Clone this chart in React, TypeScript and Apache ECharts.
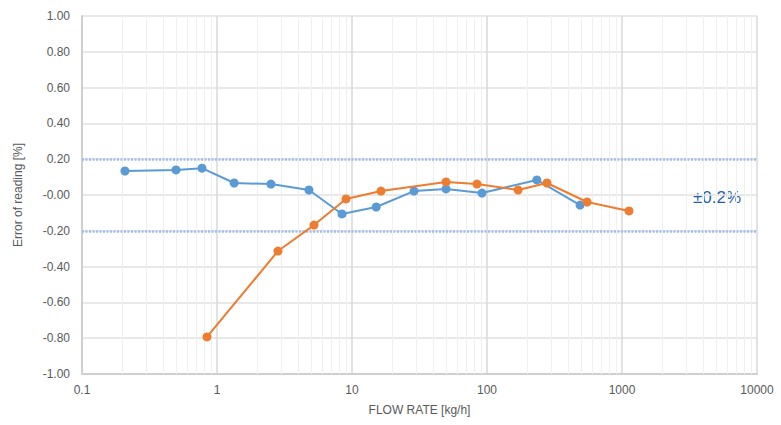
import React, { useEffect, useRef } from "react";
import * as echarts from "echarts";

const blueX = [0.208, 0.497, 0.774, 1.34, 2.51, 4.8, 8.43, 15.1, 28.8, 49.7, 91.8, 234, 489];
const blueY = [0.134, 0.14, 0.15, 0.067, 0.061, 0.028, -0.106, -0.067, 0.022, 0.034, 0.011, 0.084, -0.056];
const orangeX = [0.843, 2.83, 5.23, 9.03, 16.4, 49.7, 84.3, 170, 278, 551, 1127];
const orangeY = [-0.793, -0.313, -0.168, -0.022, 0.022, 0.073, 0.061, 0.028, 0.067, -0.039, -0.089];
const decades = [0.1, 1, 10, 100, 1000];
const minorMultipliers = [2, 3, 4, 5, 6, 7, 8, 9];
const limitLines = [0.2, -0.2];
const toleranceLabel = "±0.2%";

export default function App() {
  const ref = useRef<HTMLDivElement>(null);
  useEffect(() => {
    if (!ref.current) return;
    const chart = echarts.init(ref.current, undefined, { renderer: "svg" });
    const minorVals: number[] = [];
    decades.forEach((d) => minorMultipliers.forEach((m) => minorVals.push(+(d * m).toPrecision(3))));
    const font = "Liberation Sans";
    chart.setOption({
      animation: false,
      backgroundColor: "#ffffff",
      grid: { left: 82, right: 24, top: 16, bottom: 51, containLabel: false },
      xAxis: {
        type: "log",
        logBase: 10,
        min: 0.1,
        max: 10000,
        name: "FLOW RATE [kg/h]",
        nameLocation: "middle",
        nameGap: 30,
        nameTextStyle: { color: "#595959", fontSize: 12, fontFamily: font },
        axisLine: { show: true, onZero: false, lineStyle: { color: "#cfcfcf", width: 2 } },
        axisTick: { show: false },
        axisLabel: {
          color: "#595959",
          fontSize: 12,
          fontFamily: font,
          margin: 10,
          formatter: (v: number) => (v < 1 ? String(+v.toFixed(1)) : String(Math.round(v))),
        },
        splitLine: { show: true, lineStyle: { color: "#d9d9d9", width: 1.5 } },
      },
      yAxis: {
        type: "value",
        min: -1,
        max: 1,
        interval: 0.2,
        name: "Error of reading [%]",
        nameLocation: "middle",
        nameGap: 58,
        nameRotate: 90,
        nameTextStyle: { color: "#595959", fontSize: 12, fontFamily: font },
        axisLine: { show: true, lineStyle: { color: "#cfcfcf", width: 2 } },
        axisTick: { show: false },
        axisLabel: {
          color: "#595959",
          fontSize: 12,
          fontFamily: font,
          margin: 12,
          formatter: (v: number) => (Math.abs(v) < 1e-9 ? "-0.00" : v.toFixed(2)),
        },
        splitLine: { show: true, lineStyle: { color: "#e2e2e2", width: 1.5 } },
      },
      series: [
        {
          type: "line",
          data: [],
          silent: true,
          markLine: {
            silent: true,
            symbol: "none",
            label: { show: false },
            lineStyle: { color: "#f0f0f0", width: 1, type: "solid" },
            data: minorVals.map((v) => ({ xAxis: v })),
          },
        },
        {
          type: "line",
          data: [],
          silent: true,
          markLine: {
            silent: true,
            symbol: "none",
            label: { show: false },
            lineStyle: { color: "#9fbfe6", width: 2.5, type: [2, 1.5] },
            data: limitLines.map((v) => ({ yAxis: v })),
          },
        },
        {
          name: "blue",
          type: "line",
          data: blueX.map((x, i) => [x, blueY[i]]),
          symbol: "circle",
          symbolSize: 9,
          itemStyle: { color: "#5b9bd5" },
          lineStyle: { color: "#5b9bd5", width: 2 },
          z: 5,
        },
        {
          name: "orange",
          type: "line",
          data: orangeX.map((x, i) => [x, orangeY[i]]),
          symbol: "circle",
          symbolSize: 9,
          itemStyle: { color: "#ed7d31" },
          lineStyle: { color: "#ed7d31", width: 2 },
          z: 6,
        },
      ],
      graphic: [
        {
          type: "text",
          left: 693,
          top: 189,
          style: { text: toleranceLabel, fill: "#1f5fae", fontSize: 17, fontWeight: 500, fontFamily: font },
        },
      ],
    });
    return () => chart.dispose();
  }, []);
  return <div ref={ref} style={{ width: 781, height: 425, position: "absolute", left: 0, top: 0 }} />;
}
